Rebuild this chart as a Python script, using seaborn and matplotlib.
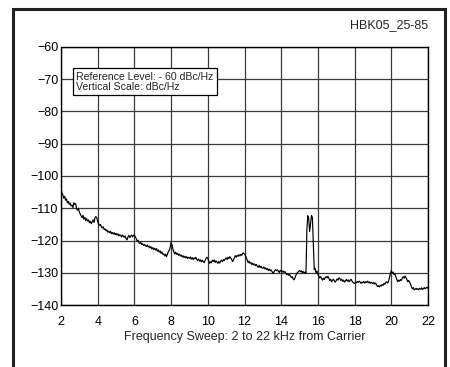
import numpy as np
import pandas as pd
import matplotlib
matplotlib.use("Agg")
import matplotlib.pyplot as plt
from matplotlib.patches import Rectangle
import seaborn as sns

# Sweep from 2 to 22 kHz in 50 Hz steps
freq_start_khz = 2.0
freq_stop_khz = 22.0
freq_step_khz = 0.05

# Measured noise level (dBc/Hz), one row per kHz of sweep
level_dbc = [
    # 2 kHz
    -103.8, -105.2, -105.8, -106.9, -106.3, -107.5, -107.1, -108.3, -107.9, -108.8,
    -108.4, -109.3, -109.0, -109.8, -108.3, -108.8, -108.6, -110.2, -110.6, -110.0,
    # 3 kHz
    -111.2, -111.8, -112.4, -112.9, -112.2, -113.4, -112.8, -113.8, -113.2, -114.0,
    -113.6, -114.5, -114.0, -114.8, -114.2, -113.6, -114.4, -113.0, -112.6, -112.9,
    # 4 kHz
    -114.2, -114.9, -115.3, -115.0, -115.8, -116.1, -115.7, -116.6, -116.4, -117.0,
    -116.7, -117.4, -117.1, -117.6, -117.2, -117.9, -117.5, -118.0, -117.6, -118.2,
    # 5 kHz
    -117.8, -118.3, -117.9, -118.6, -118.2, -118.4, -118.9, -118.3, -118.7, -119.0,
    -118.6, -119.5, -119.8, -118.9, -118.4, -119.1, -118.6, -118.3, -118.9, -118.4,
    # 6 kHz
    -118.3, -118.9, -119.4, -120.2, -119.9, -120.7, -120.9, -120.5, -121.3, -121.0,
    -121.6, -121.2, -121.5, -121.9, -121.4, -122.0, -121.7, -122.3, -121.9, -122.6,
    # 7 kHz
    -122.2, -122.8, -122.4, -123.0, -122.5, -123.3, -122.9, -123.6, -123.2, -124.0,
    -123.5, -124.3, -124.1, -124.8, -124.3, -125.0, -124.2, -123.5, -123.0, -122.1,
    # 8 kHz
    -120.5, -121.4, -122.8, -123.5, -124.2, -123.6, -124.3, -124.0, -124.6, -124.2,
    -124.8, -124.5, -125.1, -124.7, -125.3, -124.9, -125.4, -125.0, -125.6, -125.2,
    # 9 kHz
    -125.5, -125.1, -125.8, -125.3, -125.9, -125.4, -125.7, -125.2, -125.9, -126.2,
    -125.7, -126.4, -126.0, -126.6, -126.1, -126.5, -126.9, -126.2, -125.6, -125.2,
    # 10 kHz
    -125.5, -126.3, -127.1, -126.6, -126.9, -126.1, -126.5, -126.0, -126.8, -126.3,
    -126.7, -127.1, -126.5, -127.0, -126.4, -126.1, -126.6, -125.9, -126.2, -125.7,
    # 11 kHz
    -125.4, -125.9, -125.2, -125.6, -125.0, -125.4, -125.9, -126.5, -126.0, -125.3,
    -124.7, -125.2, -124.6, -124.9, -124.4, -124.8, -124.3, -124.6, -124.0, -123.9,
    # 12 kHz
    -124.2, -124.6, -125.4, -126.3, -126.9, -126.4, -127.1, -126.8, -127.5, -127.0,
    -127.6, -127.3, -127.8, -127.4, -128.0, -128.3, -127.7, -128.4, -128.0, -128.5,
    # 13 kHz
    -128.6, -128.2, -128.8, -128.5, -129.0, -128.7, -129.3, -128.9, -129.4, -129.1,
    -129.6, -130.2, -129.8, -129.3, -129.0, -129.4, -129.1, -129.6, -129.9, -129.2,
    # 14 kHz
    -129.5, -129.8, -129.4, -129.9, -129.6, -130.1, -130.6, -130.3, -130.8, -130.5,
    -131.0, -131.5, -131.2, -131.9, -132.2, -131.6, -130.8, -130.2, -129.9, -129.6,
    # 15 kHz (spur pair near 15.5 kHz)
    -129.3, -129.7, -129.4, -130.0, -129.6, -130.1, -129.8, -130.2, -116.5, -112.3,
    -113.4, -117.2, -114.6, -112.2, -112.9, -120.8, -129.0, -128.6, -130.1, -129.5,
    # 16 kHz
    -130.4, -131.0, -131.6, -131.2, -131.8, -132.3, -131.7, -132.1, -131.5, -131.2,
    -131.6, -131.1, -131.8, -132.4, -132.0, -132.8, -132.3, -132.0, -132.6, -132.9,
    # 17 kHz
    -132.4, -131.9, -132.3, -131.6, -131.8, -132.4, -132.0, -132.7, -132.3, -132.9,
    -132.5, -132.1, -132.6, -132.2, -132.8, -132.4, -132.0, -132.5, -132.9, -133.2,
    # 18 kHz
    -133.3, -132.9, -133.1, -132.7, -133.0, -132.6, -132.9, -133.3, -132.9, -133.1,
    -132.7, -133.2, -132.8, -133.0, -132.6, -133.1, -132.8, -133.3, -132.9, -133.2,
    # 19 kHz
    -133.4, -133.0, -133.5, -133.2, -133.8, -134.3, -134.0, -134.4, -133.9, -134.1,
    -133.6, -133.9, -133.3, -133.6, -133.0, -132.8, -133.2, -132.6, -131.5, -130.2,
    # 20 kHz
    -129.4, -130.2, -129.8, -130.6, -130.4, -131.3, -132.1, -132.8, -132.3, -132.6,
    -132.1, -132.4, -131.6, -131.2, -131.7, -131.0, -131.5, -132.1, -132.8, -132.4,
    # 21 kHz
    -132.9, -133.5, -134.4, -135.0, -134.6, -135.3, -135.1, -134.8, -135.2, -134.9,
    -135.3, -134.8, -135.1, -134.7, -135.2, -134.9, -134.6, -135.0, -134.7, -134.5,
    # 22 kHz
    -134.8,
]

x_ticks = [2, 4, 6, 8, 10, 12, 14, 16, 18, 20, 22]
y_ticks = [-60, -70, -80, -90, -100, -110, -120, -130, -140]
y_tick_labels = ["\u221260", "\u221270", "\u221280", "\u221290", "\u2212100",
                 "\u2212110", "\u2212120", "\u2212130", "\u2212140"]

figure_id = "HBK05_25-85"
x_title = "Frequency Sweep: 2 to 22 kHz from Carrier"
note = "Reference Level: - 60 dBc/Hz\nVertical Scale: dBc/Hz"

n_points = int(round((freq_stop_khz - freq_start_khz) / freq_step_khz)) + 1
freq_khz = np.linspace(freq_start_khz, freq_stop_khz, n_points)
df = pd.DataFrame({"freq": freq_khz, "level": level_dbc})

sns.set_style("white")
plt.rcParams["font.family"] = ["Liberation Sans", "DejaVu Sans"]

fig = plt.figure(figsize=(4.5, 3.67), dpi=100)
ax = fig.add_axes([61 / 450, 1 - 305 / 367, (428 - 61) / 450, (305 - 47) / 367])

sns.lineplot(data=df, x="freq", y="level", ax=ax, color="black",
             linewidth=0.85, estimator=None, sort=False)

ax.set_xlim(2, 22)
ax.set_ylim(-140, -60)
ax.set_xticks(x_ticks)
ax.set_xticklabels([str(t) for t in x_ticks])
ax.set_yticks(y_ticks)
ax.set_yticklabels(y_tick_labels)
ax.tick_params(axis="both", length=0, labelsize=9, colors="black")
ax.tick_params(axis="x", pad=8)
ax.tick_params(axis="y", pad=2)
ax.grid(True, color="#3a3a3a", linewidth=0.9)
ax.set_axisbelow(True)
for sp in ax.spines.values():
    sp.set_color("black")
    sp.set_linewidth(1.0)

ax.set_xlabel(x_title, fontsize=9, labelpad=2)
ax.set_ylabel("")

ax.text(1.0, 1.06, figure_id, transform=ax.transAxes, ha="right", va="bottom",
        fontsize=9)

ax.text(2.84, -67.6, note, ha="left", va="top", fontsize=7.6, linespacing=1.1,
        bbox=dict(boxstyle="square,pad=0.3", facecolor="white",
                  edgecolor="black", linewidth=0.9))

# outer panel frame
fig.patches.append(Rectangle((13 / 450, -0.05), (445 - 13) / 450, 1.05 - 9 / 367,
                             transform=fig.transFigure, fill=False,
                             edgecolor="#222222", linewidth=2.2))

fig.savefig("out.png", dpi=100)
